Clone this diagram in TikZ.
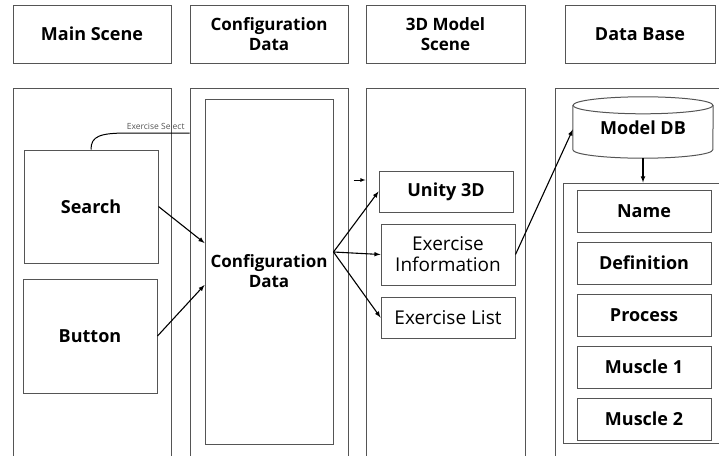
\documentclass[tikz,border=0pt]{standalone}
\usepackage{fontspec}
\setmainfont{Open Sans}
\usetikzlibrary{calc}
\usetikzlibrary{positioning}
\usetikzlibrary{shapes.geometric}
\definecolor{edgegray}{HTML}{555555}
\tikzstyle{hdrbox} = [draw=edgegray, line width=1pt, minimum width=158, minimum height=58, align=center, font=\bfseries\fontsize{17}{20}\selectfont]
\tikzstyle{colbox} = [draw=edgegray, line width=1pt, minimum height=372]
\tikzstyle{bigbox} = [draw=edgegray, line width=1pt, minimum width=134, align=center, font=\bfseries\fontsize{18}{20}\selectfont]
\tikzstyle{itembox} = [draw=edgegray, line width=1pt, minimum width=134, minimum height=42, align=center, font=\bfseries\fontsize{18}{20}\selectfont]
\tikzstyle{plainbox} = [draw=edgegray, line width=1pt, minimum width=134, align=center, font=\fontsize{19}{21}\selectfont]
\tikzstyle{flow} = [->, >=latex, line width=1.1pt]

\begin{document}
\begin{tikzpicture}[x=1pt, y=-1pt]
    \useasboundingbox (0,0) rectangle (719,455);
    \clip (0,0) rectangle (719,455);

    % column headers
    \node[hdrbox] (hdrMain) at (92,34) {\fontsize{18}{20}\selectfont Main Scene};
    \node[hdrbox] (hdrConf) at (269,34) {Configuration\\Data};
    \node[hdrbox, minimum width=159] (hdr3D) at (445.5,34) {3D Model\\Scene};
    \node[hdrbox, minimum width=150] (hdrDB) at (640,34) {\fontsize{18}{20}\selectfont Data Base};

    % column panels
    \node[colbox, minimum width=158] (colMain) at (92,274) {};
    \node[colbox, minimum width=158] (colConf) at (269,274) {};
    \node[colbox, minimum width=159] (col3D) at (445.5,274) {};
    \node[colbox, minimum width=175] (colDB) at (642.5,274) {};

    % main scene
    \node[bigbox, minimum height=113] (search) at (91,206.5) {Search};
    \node[bigbox, minimum height=114] (button) at (90,336) {Button};

    % configuration data
    \node[bigbox, minimum width=128, minimum height=345, font=\bfseries\fontsize{17}{20}\selectfont] (confData) at (269,271.5) {Configuration\\Data};

    % 3d model scene
    \node[bigbox, minimum height=41] (unity) at (446,191.5) {Unity 3D};
    \node[plainbox, minimum height=61, inner sep=1pt] (exInfo) at (448,254.5) {Exercise\\Information};
    \node[plainbox, minimum height=41] (exList) at (448,317.5) {Exercise List};

    % data base
    \node[minimum width=140, minimum height=61, font=\bfseries\fontsize{18}{20}\selectfont] (modelDB) at (643,127.5) {\raisebox{-4pt}{Model DB}};
    \draw[edgegray, line width=1pt] ($(modelDB.north)+(0,8.5)$) ellipse [x radius=70, y radius=8.5];
    \draw[edgegray, line width=1pt] ($(modelDB.north west)+(0,8.5)$) -- ($(modelDB.south west)+(0,-8.5)$)
        arc [start angle=180, end angle=0, x radius=70, y radius=8.5] -- ($(modelDB.north east)+(0,8.5)$);
    \node[draw=edgegray, line width=1pt, minimum width=167, minimum height=260] (dbList) at (646.5,313) {};
    \node[itembox] (name) at (644,211) {Name};
    \node[itembox] (definition) at (644,263) {Definition};
    \node[itembox] (process) at (644,315.5) {Process};
    \node[itembox] (muscleA) at (644,367) {Muscle 1};
    \node[itembox] (muscleB) at (644,419) {Muscle 2};

    % connections
    \coordinate (selEnd) at (colConf.west |- 0,133);
    \draw[line width=1pt] (search.north) .. controls (91,136) and (100,133) .. (128,133)
        -- node[above, font=\fontsize{8.5}{9}\selectfont, text=edgegray, pos=0.45] (selLabel) {Exercise Select} (selEnd);
    \draw[flow] (search.east) -- ($(confData.west)+(0,-28.5)$);
    \draw[flow] (button.east) -- ($(confData.west)+(0,13.5)$);
    \draw[flow] ($(confData.east)+(0,-19.5)$) -- (unity.west);
    \draw[flow] ($(confData.east)+(0,-19.5)$) -- (exInfo.west);
    \draw[flow] ($(confData.east)+(0,-19.5)$) -- (exList.west);
    \coordinate (stubStart) at ($(colConf.east)+(5,-94)$);
    \draw[->, >=latex, line width=0.8pt] (stubStart) -- (col3D.west |- stubStart);
    \draw[flow] (exInfo.east) -- ($(modelDB.west)+(0,2)$);
    \draw[flow] (modelDB.south) -- (dbList.north -| modelDB.south);
\end{tikzpicture}
\end{document}
